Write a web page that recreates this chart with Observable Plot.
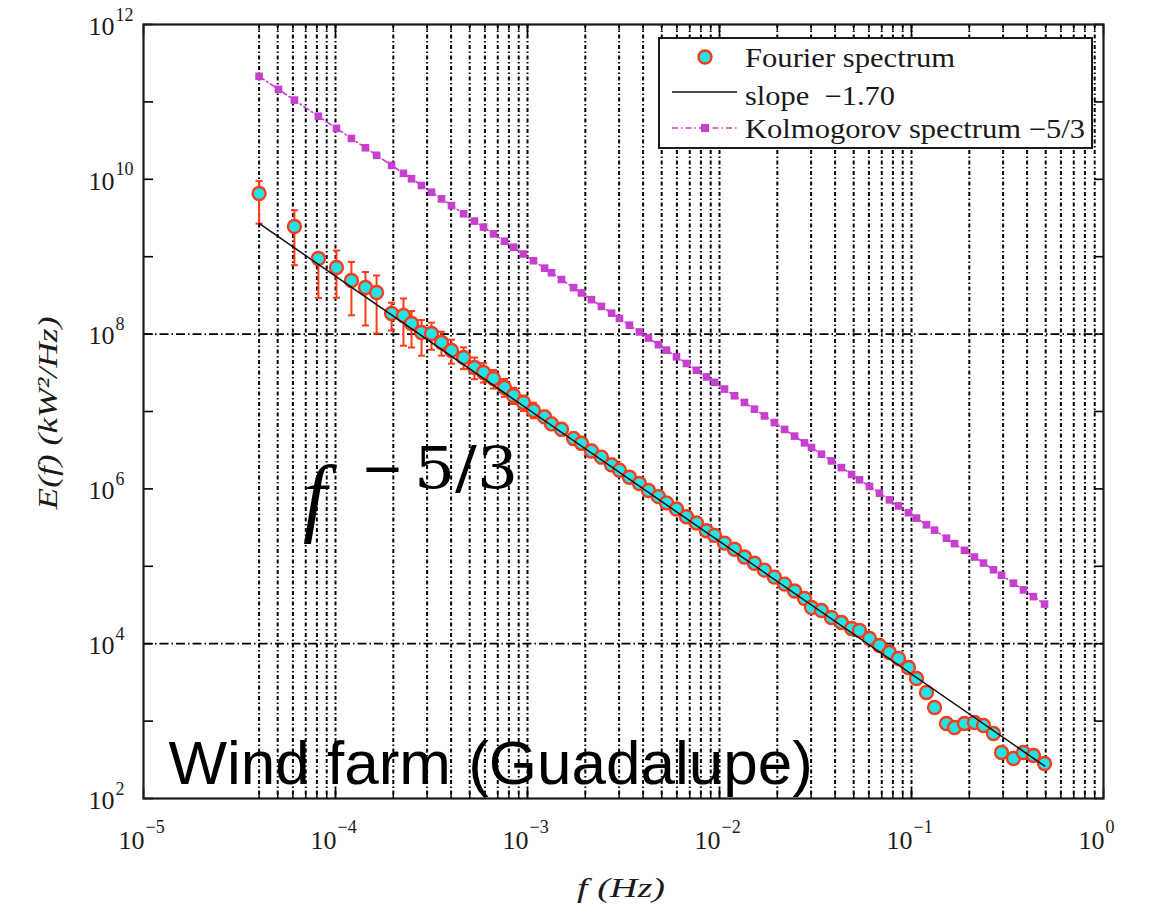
<!DOCTYPE html>
<html><head><meta charset="utf-8">
<script src="https://cdn.jsdelivr.net/npm/d3@7"></script>
<script src="https://cdn.jsdelivr.net/npm/@observablehq/plot@0.6"></script>
<style>
html,body{margin:0;padding:0;background:#fff;}
#chart{position:relative;width:1149px;height:921px;overflow:hidden;}
</style></head><body><div id="chart"></div>
<script>
// ---- Data (log10 values) ----
const logFreq = [-4.398,-4.214,-4.089,-3.995,-3.917,-3.844,-3.786,-3.708,-3.646,-3.604,
  -3.552,-3.500,-3.448,-3.396,-3.333,-3.276,-3.229,-3.177,-3.120,-3.073,
  -3.021,-2.969,-2.911,-2.875,-2.823,-2.760,-2.719,-2.667,-2.615,-2.562,
  -2.521,-2.469,-2.417,-2.370,-2.318,-2.276,-2.224,-2.172,-2.120,-2.068,
  -2.026,-1.974,-1.922,-1.870,-1.818,-1.766,-1.714,-1.661,-1.609,-1.557,
  -1.521,-1.469,-1.417,-1.365,-1.312,-1.271,-1.219,-1.167,-1.115,-1.068,
  -1.016,-0.974,-0.922,-0.880,-0.818,-0.776,-0.724,-0.672,-0.625,-0.573,
  -0.531,-0.469,-0.417,-0.365,-0.307];
const logPower = [9.817,9.390,8.977,8.860,8.693,8.602,8.537,8.266,8.240,8.137,
  8.021,8.008,7.891,7.788,7.698,7.568,7.504,7.426,7.310,7.207,
  7.116,7.013,6.930,6.840,6.770,6.650,6.590,6.490,6.410,6.310,
  6.240,6.150,6.070,5.980,5.900,5.820,5.740,5.640,5.560,5.460,
  5.400,5.300,5.220,5.120,5.040,4.950,4.860,4.770,4.680,4.584,
  4.468,4.429,4.339,4.274,4.196,4.171,4.067,3.977,3.886,3.809,
  3.693,3.550,3.370,3.176,2.969,2.917,2.969,2.982,2.943,2.840,
  2.594,2.517,2.594,2.556,2.452];
// error bar extents above / below each point (decades)
const errUp = [0.16,0.21,0.07,0.22,0.24,0.20,0.22,0.14,0.22,0.16,
  0.16,0.14,0.14,0.14,0.13,0.13,0.12,0.11,0.11,0.10,
  0.09,0.10,0.08,0.08,0.08,0.08,0.08,0.08,0.08,0.08,
  0.06,0.06,0.06,0.06,0.06,0.06,0.06,0.06,0.06,0.06,
  0.06,0.06,0.06,0.06,0.06,0.04,0.04,0.04,0.04,0.04,
  0.04,0.04,0.04,0.04,0.04,0.04,0.04,0.04,0.04,0.04,
  0.04,0.04,0.04,0.04,0.04,0.04,0.04,0.04,0.04,0.04,
  0.04,0.04,0.04,0.04,0.04];
const errDn = [0.39,0.50,0.51,0.39,0.45,0.49,0.53,0.22,0.39,0.31,
  0.30,0.21,0.17,0.17,0.15,0.15,0.13,0.13,0.12,0.11,
  0.11,0.10,0.08,0.08,0.08,0.08,0.08,0.08,0.08,0.08,
  0.06,0.06,0.06,0.06,0.06,0.06,0.06,0.06,0.06,0.06,
  0.06,0.06,0.06,0.06,0.06,0.04,0.04,0.04,0.04,0.04,
  0.04,0.04,0.04,0.04,0.04,0.04,0.04,0.04,0.04,0.04,
  0.04,0.04,0.04,0.04,0.04,0.04,0.04,0.04,0.04,0.04,
  0.04,0.04,0.04,0.04,0.04];
const logKolFreq = [-4.398,-4.297,-4.214,-4.089,-3.995,-3.917,-3.844,-3.786,-3.708,-3.646,
  -3.604,-3.552,-3.500,-3.448,-3.396,-3.333,-3.276,-3.229,-3.177,-3.120,
  -3.073,-3.021,-2.969,-2.911,-2.875,-2.823,-2.760,-2.719,-2.667,-2.615,
  -2.562,-2.521,-2.469,-2.417,-2.370,-2.318,-2.276,-2.224,-2.172,-2.120,
  -2.068,-2.026,-1.974,-1.922,-1.870,-1.818,-1.766,-1.714,-1.661,-1.609,
  -1.557,-1.521,-1.469,-1.417,-1.365,-1.312,-1.271,-1.219,-1.167,-1.115,
  -1.068,-1.016,-0.974,-0.922,-0.880,-0.818,-0.776,-0.724,-0.672,-0.625,
  -0.573,-0.531,-0.469,-0.417,-0.365,-0.307];
const logKolPower = [11.330,11.162,11.023,10.815,10.658,10.528,10.407,10.310,10.180,10.077,
  10.007,9.920,9.833,9.747,9.660,9.555,9.460,9.382,9.295,9.200,
  9.122,9.035,8.948,8.852,8.792,8.705,8.600,8.532,8.445,8.358,
  8.270,8.202,8.115,8.028,7.950,7.863,7.793,7.707,7.620,7.533,
  7.447,7.377,7.290,7.203,7.117,7.030,6.943,6.857,6.768,6.682,
  6.595,6.535,6.448,6.362,6.275,6.187,6.118,6.032,5.945,5.858,
  5.780,5.693,5.623,5.537,5.467,5.363,5.293,5.207,5.120,5.042,
  4.955,4.885,4.782,4.695,4.608,4.512];
const fitLogFreq = [-4.398, -0.307];
const fitLogPower = [9.430, 2.420];
const xTickExp = [-5,-4,-3,-2,-1,0];
const yTickExp = [2,4,6,8,10,12];
const yGridVals = [1e4, 1e8];
const xGridVals = [4e-5,5e-5,6e-5,7e-5,8e-5,9e-5,
  1e-4,2e-4,3e-4,4e-4,5e-4,6e-4,7e-4,8e-4,9e-4,
  1e-3,2e-3,3e-3,4e-3,5e-3,6e-3,7e-3,8e-3,9e-3,
  1e-2,2e-2,3e-2,4e-2,5e-2,6e-2,7e-2,8e-2,9e-2,
  1e-1,2e-1,3e-1,4e-1,5e-1,6e-1,7e-1,8e-1,9e-1];
const legendLabels = ["Fourier spectrum", "slope  \u22121.70", "Kolmogorov spectrum \u22125/3"];

// ---- Build tables ----
const rows = logFreq.map((lf,i)=>({f:10**lf, e:10**logPower[i], lo:10**(logPower[i]-errDn[i]), hi:10**(logPower[i]+errUp[i])}));
const kol = logKolFreq.map((lf,i)=>({f:10**lf, e:10**logKolPower[i]}));
const fit = fitLogFreq.map((lf,i)=>({f:10**lf, e:10**fitLogPower[i]}));
const xDecades = xTickExp.map(d=>10**d);
const yDecades = [2,3,4,5,6,7,8,9,10,11,12].map(d=>10**d);

const RED = "#ff3a1a", CYAN = "#22e4e8", MAG = "#c63fcf";
const capSymbol = {draw(ctx, size){ const w = Math.sqrt(size)/2; ctx.moveTo(-w,0); ctx.lineTo(w,0); }};
const sup = d => (d < 0 ? "\u2212" : "") + Math.abs(d);
const SERIF = "'Liberation Serif', 'Times New Roman', serif";

const plot = Plot.plot({
  width: 1149, height: 921,
  marginLeft: 143, marginRight: 46, marginTop: 24, marginBottom: 123,
  x: {type: "log", domain: [1e-5, 1]},
  y: {type: "log", domain: [1e2, 1e12]},
  style: {fontFamily: SERIF, background: "white", overflow: "visible"},
  marks: [
    Plot.ruleX(xGridVals, {stroke: "#000", strokeWidth: 2, strokeDasharray: "4,2.5,1.5,2.5"}),
    Plot.ruleY(yGridVals, {stroke: "#000", strokeWidth: 1.8, strokeDasharray: "9,3,1.5,3"}),
    Plot.axisX(xDecades, {anchor: "bottom", tickSize: -10, tickFormat: () => "", label: null, strokeWidth: 1.6}),
    Plot.axisX(xDecades, {anchor: "top", tickSize: -10, tickFormat: () => "", label: null, strokeWidth: 1.6}),
    Plot.axisX(xGridVals, {anchor: "bottom", tickSize: -5, tickFormat: () => "", label: null, strokeWidth: 1.4}),
    Plot.axisX(xGridVals, {anchor: "top", tickSize: -5, tickFormat: () => "", label: null, strokeWidth: 1.4}),
    Plot.axisY(yDecades, {anchor: "left", tickSize: -10, tickFormat: () => "", label: null, strokeWidth: 1.6}),
    Plot.axisY(yDecades, {anchor: "right", tickSize: -10, tickFormat: () => "", label: null, strokeWidth: 1.6}),
    // error bars
    Plot.ruleX(rows, {x: "f", y1: "lo", y2: "hi", stroke: RED, strokeWidth: 2}),
    Plot.dot(rows, {x: "f", y: "hi", symbol: capSymbol, r: 4, stroke: RED, strokeWidth: 2, fill: "none"}),
    Plot.dot(rows, {x: "f", y: "lo", symbol: capSymbol, r: 4, stroke: RED, strokeWidth: 2, fill: "none"}),
    // Kolmogorov
    Plot.line(kol, {x: "f", y: "e", stroke: MAG, strokeWidth: 1.6, strokeDasharray: "6,3,1.5,3"}),
    Plot.dot(kol, {x: "f", y: "e", symbol: "square", r: 4.3, fill: MAG, stroke: "none"}),
    // Fourier spectrum
    Plot.dot(rows, {x: "f", y: "e", r: 6.5, fill: CYAN, stroke: RED, strokeWidth: 2.4}),
    // fit line
    Plot.line(fit, {x: "f", y: "e", stroke: "#111", strokeWidth: 1.5}),
    // tick labels
    Plot.text(xTickExp, {x: d => 10**d, frameAnchor: "bottom", text: () => "10", textAnchor: "end", lineAnchor: "bottom", dx: 1, dy: 50, fontSize: 26, fill: "#1a1a1a"}),
    Plot.text(xTickExp, {x: d => 10**d, frameAnchor: "bottom", text: sup, textAnchor: "start", lineAnchor: "bottom", dx: 2, dy: 34, fontSize: 18, fill: "#1a1a1a"}),
    Plot.text(yTickExp, {y: d => 10**d, frameAnchor: "left", text: () => "10", textAnchor: "end", lineAnchor: "middle", dx: -29, dy: 2, fontSize: 26, fill: "#1a1a1a"}),
    Plot.text(yTickExp, {y: d => 10**d, frameAnchor: "left", text: sup, textAnchor: "start", lineAnchor: "bottom", dx: -28, dy: -4, fontSize: 18, fill: "#1a1a1a"}),
    Plot.frame({stroke: "#1a1a1a", strokeWidth: 2.2}),
    // annotation
    Plot.text(["Wind farm (Guadalupe)"], {text: d => d, frameAnchor: "bottom-left", dx: 25, dy: -15, textAnchor: "start", lineAnchor: "bottom", fontSize: 62, fontFamily: "'Liberation Sans', Arial, sans-serif", fill: "black"})
  ]
});

const svg = d3.select(plot);

// axis titles
svg.append("text").attr("transform", "translate(57,413) rotate(-90)")
  .attr("text-anchor", "middle").attr("font-family", SERIF).attr("font-style", "italic")
  .attr("font-size", 28).attr("fill", "#1a1a1a")
  .attr("textLength", 193).attr("lengthAdjust", "spacingAndGlyphs")
  .text("E(f) (kW\u00b2/Hz)");
svg.append("text").attr("x", 621).attr("y", 897)
  .attr("text-anchor", "middle").attr("font-family", SERIF).attr("font-style", "italic")
  .attr("font-size", 28).attr("fill", "#1a1a1a")
  .attr("textLength", 88).attr("lengthAdjust", "spacingAndGlyphs")
  .text("f (Hz)");

// f^{-5/3} annotation
const ann = svg.append("g").attr("fill", "black").attr("text-anchor", "start");
ann.append("text").attr("x", 303).attr("y", 525).attr("text-anchor", "start").attr("font-family", SERIF).attr("font-style", "italic").attr("font-size", 86).text("f");
ann.append("text").attr("x", 361).attr("y", 488).attr("text-anchor", "start").attr("font-family", "'DejaVu Serif', serif").attr("font-size", 58)
  .attr("textLength", 43).attr("lengthAdjust", "spacingAndGlyphs").text("\u2212");
ann.append("text").attr("x", 414).attr("y", 488).attr("text-anchor", "start").attr("font-family", "'DejaVu Serif', serif").attr("font-size", 58)
  .attr("textLength", 104).attr("lengthAdjust", "spacingAndGlyphs").text("5/3");

// legend
const lg = svg.append("g").attr("text-anchor", "start");
lg.append("rect").attr("x", 659).attr("y", 38).attr("width", 433).attr("height", 110)
  .attr("fill", "white").attr("stroke", "#1a1a1a").attr("stroke-width", 2);
lg.append("circle").attr("cx", 705).attr("cy", 57).attr("r", 6.5).attr("fill", CYAN).attr("stroke", RED).attr("stroke-width", 2.4);
lg.append("line").attr("x1", 672).attr("x2", 737).attr("y1", 92).attr("y2", 92).attr("stroke", "#111").attr("stroke-width", 1.5);
lg.append("line").attr("x1", 672).attr("x2", 737).attr("y1", 128).attr("y2", 128).attr("stroke", MAG).attr("stroke-width", 1.6).attr("stroke-dasharray", "6,3,1.5,3");
lg.append("rect").attr("x", 701).attr("y", 124).attr("width", 8).attr("height", 8).attr("fill", MAG);
const lgY = [67, 105, 138], lgW = [210, 150, 340];
legendLabels.forEach((t,i) => {
  lg.append("text").attr("x", 745).attr("y", lgY[i]).attr("text-anchor", "start").attr("font-family", SERIF).attr("font-size", 27)
    .attr("fill", "#1a1a1a").style("white-space", "pre")
    .attr("textLength", lgW[i]).attr("lengthAdjust", "spacingAndGlyphs").text(t);
});

document.getElementById("chart").appendChild(plot);
</script>
</body></html>
